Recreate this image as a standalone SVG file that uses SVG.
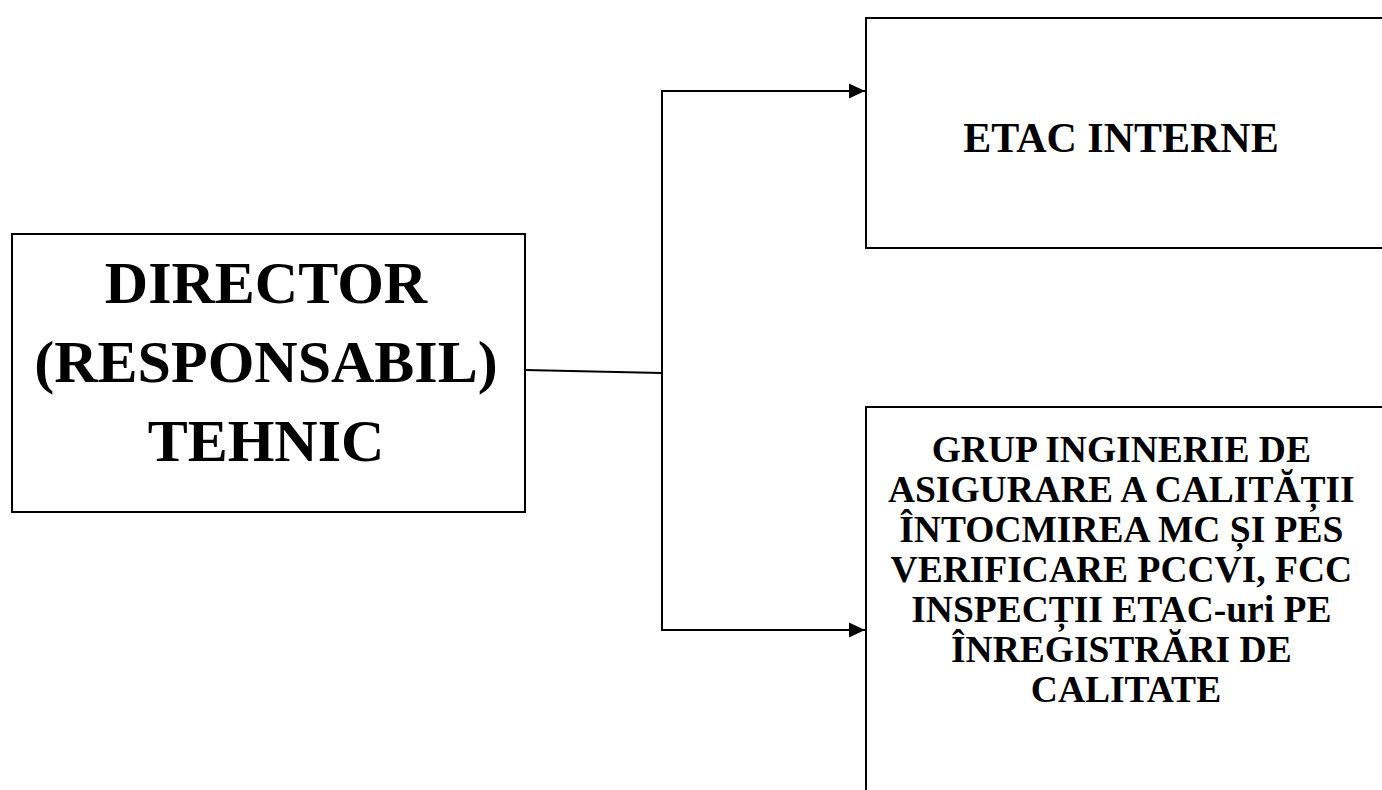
<svg xmlns="http://www.w3.org/2000/svg" width="1382" height="790" viewBox="0 0 1382 790">
<defs>
<style>
.box{fill:#fff;stroke:#000;stroke-width:2}
.t{font-family:"Liberation Serif","Times New Roman",serif;font-weight:bold;fill:#000;text-anchor:middle}
.c{fill:none;stroke:#000;stroke-width:2}
</style>
<marker id="arr" markerWidth="16" markerHeight="16" refX="16" refY="8" orient="auto" markerUnits="userSpaceOnUse">
<path d="M0,0.5 L16,8 L0,15.5 Z" fill="#000"/>
</marker>
</defs>
<rect width="1382" height="790" fill="#fff"/>
<g id="connectors">
<polyline class="c" points="525,370 662,373"/>
<polyline class="c" points="662,373 662,91 865,91" marker-end="url(#arr)"/>
<polyline class="c" points="662,373 662,630 865,630" marker-end="url(#arr)"/>
</g>
<g id="director">
<rect class="box" x="12" y="234" width="513" height="278"/>
<text class="t" font-size="60" x="266" y="303">DIRECTOR</text>
<text class="t" font-size="60" x="266" y="382">(RESPONSABIL)</text>
<text class="t" font-size="60" x="266" y="461">TEHNIC</text>
</g>
<g id="etac">
<rect class="box" x="866" y="18" width="530" height="230"/>
<text class="t" font-size="42" x="1121" y="152">ETAC INTERNE</text>
</g>
<g id="grup">
<rect class="box" x="866" y="407" width="530" height="420"/>
<text class="t" font-size="37.5" x="1126">
<tspan x="1126" y="462">GRUP INGINERIE DE</tspan>
<tspan x="1126" y="502">ASIGURARE A CALITĂȚII</tspan>
<tspan x="1126" y="542">ÎNTOCMIREA MC ȘI PES</tspan>
<tspan x="1126" y="582">VERIFICARE PCCVI, FCC</tspan>
<tspan x="1126" y="622">INSPECȚII ETAC-uri PE</tspan>
<tspan x="1126" y="662">ÎNREGISTRĂRI DE</tspan>
<tspan x="1126" y="702">CALITATE</tspan>
</text>
</g>
</svg>
